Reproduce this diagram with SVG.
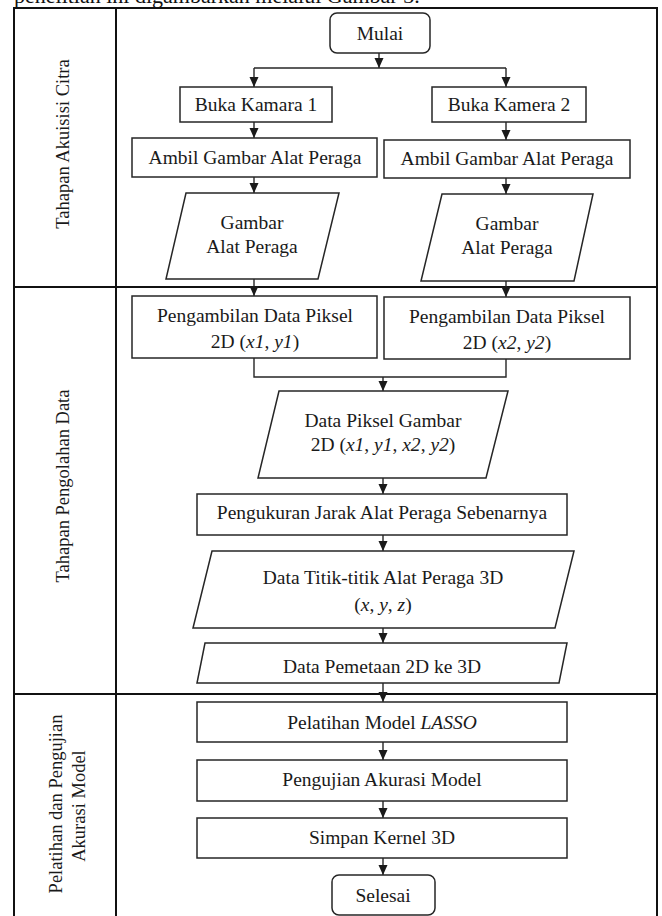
<svg xmlns="http://www.w3.org/2000/svg" width="662" height="916" viewBox="0 0 662 916">
  <style>
    .t { font-family: "Liberation Serif", "Times New Roman", serif; font-size: 19.5px; fill: #1a1a1a; text-anchor: middle; }
    .lane { font-family: "Liberation Serif", "Times New Roman", serif; font-size: 18.5px; fill: #1a1a1a; text-anchor: middle; }
    .hdr { font-family: "Liberation Serif", "Times New Roman", serif; font-size: 22px; fill: #111; }
    .box { fill: #fff; stroke: #262626; stroke-width: 1.5; }
    .frame { fill: none; stroke: #111; stroke-width: 2; }
    .wire { fill: none; stroke: #262626; stroke-width: 1.4; }
    .i { font-style: italic; }
  </style>
  <defs>
    <marker id="arrow" markerUnits="userSpaceOnUse" markerWidth="10" markerHeight="11" refX="10" refY="4.5" orient="auto">
      <path d="M0,0 L10,4.5 L0,9 Z" fill="#1a1a1a"/>
    </marker>
  </defs>

  <rect width="662" height="916" fill="#fff"/>

  <!-- running text line above the figure -->
  <text class="hdr" x="14" y="3">penelitian ini digambarkan melalui Gambar 3.</text>

  <!-- swimlane frame -->
  <g id="lanes">
    <path class="frame" d="M14,916 V8 H657 V916"/>
    <path class="frame" d="M116,8 V916"/>
    <path class="frame" d="M14,287 H657"/>
    <path class="frame" d="M14,694 H658"/>
    <text class="lane" transform="translate(69,144) rotate(-90)">Tahapan Akuisisi Citra</text>
    <text class="lane" transform="translate(69,486) rotate(-90)">Tahapan Pengolahan Data</text>
    <text class="lane" transform="translate(62,804) rotate(-90)">Pelatihan dan Pengujian</text>
    <text class="lane" transform="translate(85,806) rotate(-90)">Akurasi Model</text>
  </g>

  <!-- connectors -->
  <g id="connectors" class="wire">
    <path d="M379,53 V68" marker-end="url(#arrow)"/>
    <path d="M254,68 H506"/>
    <path d="M254,68 V87" marker-end="url(#arrow)"/>
    <path d="M506,68 V87" marker-end="url(#arrow)"/>
    <path d="M254,122 V138" marker-end="url(#arrow)"/>
    <path d="M506,122 V140" marker-end="url(#arrow)"/>
    <path d="M254,177 V193" marker-end="url(#arrow)"/>
    <path d="M506,178 V194" marker-end="url(#arrow)"/>
    <path d="M254,279 V296" marker-end="url(#arrow)"/>
    <path d="M506,281 V297" marker-end="url(#arrow)"/>
    <path d="M254,358 V377 H506 V359"/>
    <path d="M383,377 V391" marker-end="url(#arrow)"/>
    <path d="M383,478 V494" marker-end="url(#arrow)"/>
    <path d="M383,535 V551" marker-end="url(#arrow)"/>
    <path d="M383,628 V643" marker-end="url(#arrow)"/>
    <path d="M383,683 V702" marker-end="url(#arrow)"/>
    <path d="M383,742 V760" marker-end="url(#arrow)"/>
    <path d="M383,801 V818" marker-end="url(#arrow)"/>
    <path d="M383,858 V875" marker-end="url(#arrow)"/>
  </g>

  <!-- acquisition stage -->
  <g id="mulai">
    <rect class="box" x="330" y="13" width="100" height="40" rx="7"/>
    <text class="t" x="380" y="40">Mulai</text>
  </g>
  <g id="buka-kamera-1">
    <rect class="box" x="180" y="87" width="152" height="35"/>
    <text class="t" x="256" y="111">Buka Kamara 1</text>
  </g>
  <g id="buka-kamera-2">
    <rect class="box" x="432" y="87" width="154" height="35"/>
    <text class="t" x="509" y="111">Buka Kamera 2</text>
  </g>
  <g id="ambil-gambar-1">
    <rect class="box" x="132" y="138" width="245" height="39"/>
    <text class="t" x="255" y="164">Ambil Gambar Alat Peraga</text>
  </g>
  <g id="ambil-gambar-2">
    <rect class="box" x="384" y="140" width="246" height="38"/>
    <text class="t" x="507" y="165">Ambil Gambar Alat Peraga</text>
  </g>
  <g id="gambar-1">
    <path class="box" d="M186,193 H339 L318,279 H166 Z"/>
    <text class="t" x="252" y="229">Gambar</text>
    <text class="t" x="252" y="253">Alat Peraga</text>
  </g>
  <g id="gambar-2">
    <path class="box" d="M442,194 H593 L574,281 H421 Z"/>
    <text class="t" x="507" y="230">Gambar</text>
    <text class="t" x="507" y="254">Alat Peraga</text>
  </g>

  <!-- data processing stage -->
  <g id="piksel-1">
    <rect class="box" x="132" y="296" width="245" height="62"/>
    <text class="t" x="255" y="322">Pengambilan Data Piksel</text>
    <text class="t" x="255" y="348">2D (<tspan class="i">x1</tspan>, <tspan class="i">y1</tspan>)</text>
  </g>
  <g id="piksel-2">
    <rect class="box" x="384" y="297" width="246" height="62"/>
    <text class="t" x="507" y="323">Pengambilan Data Piksel</text>
    <text class="t" x="507" y="349">2D (<tspan class="i">x2</tspan>, <tspan class="i">y2</tspan>)</text>
  </g>
  <g id="data-piksel-gambar">
    <path class="box" d="M279,391 H508 L486,478 H258 Z"/>
    <text class="t" x="383" y="427">Data Piksel Gambar</text>
    <text class="t" x="383" y="451">2D (<tspan class="i">x1</tspan>, <tspan class="i">y1</tspan>, <tspan class="i">x2</tspan>, <tspan class="i">y2</tspan>)</text>
  </g>
  <g id="pengukuran-jarak">
    <rect class="box" x="197" y="494" width="370" height="41"/>
    <text class="t" x="382" y="519">Pengukuran Jarak Alat Peraga Sebenarnya</text>
  </g>
  <g id="titik-3d">
    <path class="box" d="M212,551 H574 L555,628 H193 Z"/>
    <text class="t" x="383" y="584">Data Titik-titik Alat Peraga 3D</text>
    <text class="t" x="383" y="611">(<tspan class="i">x</tspan>, <tspan class="i">y</tspan>, <tspan class="i">z</tspan>)</text>
  </g>
  <g id="pemetaan">
    <path class="box" d="M205,643 H567 L559,683 H197 Z"/>
    <text class="t" x="382" y="673">Data Pemetaan 2D ke 3D</text>
  </g>

  <!-- training and testing stage -->
  <g id="pelatihan">
    <rect class="box" x="197" y="702" width="370" height="40"/>
    <text class="t" x="382" y="729">Pelatihan Model <tspan class="i">LASSO</tspan></text>
  </g>
  <g id="pengujian">
    <rect class="box" x="197" y="760" width="370" height="41"/>
    <text class="t" x="382" y="786">Pengujian Akurasi Model</text>
  </g>
  <g id="simpan">
    <rect class="box" x="197" y="818" width="370" height="40"/>
    <text class="t" x="382" y="844">Simpan Kernel 3D</text>
  </g>
  <g id="selesai">
    <rect class="box" x="332" y="875" width="103" height="40" rx="7"/>
    <text class="t" x="383" y="902">Selesai</text>
  </g>
</svg>
